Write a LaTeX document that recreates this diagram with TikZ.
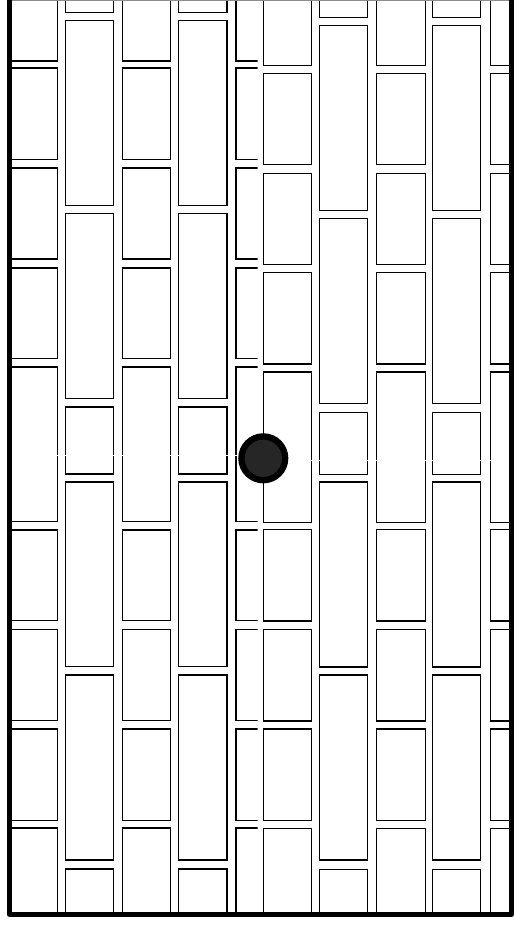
\documentclass[tikz,border=0pt]{standalone}
\usepackage{tikz}
\usetikzlibrary{calc}
\usetikzlibrary{positioning}
\definecolor{knob-gray}{gray}{0.15}
\definecolor{edge-gray}{gray}{0.55}

\begin{document}
\begin{tikzpicture}
  [
    x = 1pt, y = -1pt,
    tile/.style  = {draw, line width=1.1pt},
    joint/.style = {white, line width=1.8pt},
    frame/.style = {draw, line width=5pt, line join=round},
    knob/.style  = {draw, circle, fill=knob-gray, line width=6.3pt,
                    minimum size=43.8pt, inner sep=0pt}
  ]
% Canvas (x, y) in pixels, y pointing down
\useasboundingbox (0, 0) rectangle (514, 927);

\coordinate[] (l0) at (  9.5,   0);
\coordinate[] (l1) at (257.5, 914.5);
\coordinate[] (r0) at (260,     0);
\coordinate[] (r1) at (511.5, 914.5);

% ---------------------------------------------------
% Left panel
\begin{scope}
\clip (l0) rectangle (l1);
% Short tiles
\foreach \x in {9, 122.6, 236}
  \foreach \a/\b in {-30/61, 68/159.5, 168/259, 268/358.5, 367/521.5,
                     530/620.5, 629.5/720.5, 729/820.5, 828/919}
    \draw[tile] (\x, \a) rectangle ({\x + 48.3}, \b);
% Long tiles
\foreach \x in {65.2, 178.7}
  \foreach \a/\b in {-173/12.5, 20.5/205.5, 213.5/398.5, 407/474,
                     482/666.5, 675/860, 869/1054}
    \draw[tile] (\x, \a) rectangle ({\x + 48.3}, \b);
% Joint
\coordinate[] (lj0) at (  9.5, 455.5);
\coordinate[] (lj1) at (257.5, 455.5);
\draw[joint] (lj0) -- (lj1);
\end{scope}

% ---------------------------------------------------
% Right panel
\begin{scope}
\clip (r0) rectangle (r1);
% Short tiles
\foreach \x in {263.3, 376.7, 490.1}
  \foreach \a/\b in {-25/65.7, 73.3/164.3, 173.3/264.3, 272.7/364, 372/522.3,
                     529.7/621, 629.3/721, 729/820.7, 828.3/919}
    \draw[tile] (\x, \a) rectangle ({\x + 48.4}, \b);
% Long tiles
\foreach \x in {319.3, 432.3}
  \foreach \a/\b in {-168/17.3, 25.7/210.7, 218.7/403.7, 412.7/474.3,
                     482/667, 675/860, 869.3/1054}
    \draw[tile] (\x, \a) rectangle ({\x + 48.4}, \b);
% Joint
\coordinate[] (rj0) at (260,   460.5);
\coordinate[] (rj1) at (511.5, 460.5);
\draw[joint] (rj0) -- (rj1);
\end{scope}

% ---------------------------------------------------
% Top edge and frame
\coordinate[] (t0) at (  9.5, 0.6);
\coordinate[] (t1) at (511.5, 0.6);
\draw[edge-gray, line width=1.2pt] (t0) -- (t1);
\draw[frame] (l0) -- (l0 |- l1) -- (r1) -- (r1 |- r0);

% Handle
\node[knob] (knob) at (263.3, 458.3) {};
\end{tikzpicture}
\end{document}
